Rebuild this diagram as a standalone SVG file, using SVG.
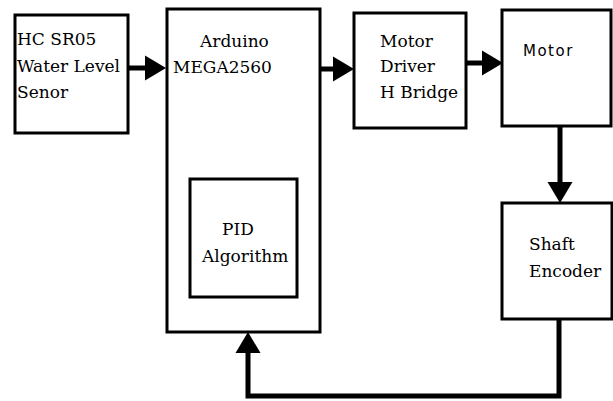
<svg xmlns="http://www.w3.org/2000/svg" width="613" height="401" viewBox="0 0 613 401">
<style>
.box{fill:#fff;stroke:#000;stroke-width:3}
.t{font-family:"DejaVu Serif","Liberation Serif",serif;font-size:17px;fill:#000}
.s{font-family:"DejaVu Sans","Liberation Sans",sans-serif;font-size:15px;fill:#000;letter-spacing:1.5px}
.c{fill:none;stroke:#000;stroke-width:5}
</style>
<defs>
<marker id="ah" markerUnits="userSpaceOnUse" markerWidth="22" markerHeight="26" refX="0" refY="12.5" orient="auto" overflow="visible">
<path d="M0,0 L21,12.5 L0,25 Z" fill="#000"/>
</marker>
</defs>
<rect width="613" height="401" fill="#fff"/>
<g id="sensor">
<rect class="box" x="15" y="15" width="113" height="118"/>
<text class="t" x="17" y="45">HC SR05</text>
<text class="t" x="17" y="72">Water Level</text>
<text class="t" x="17" y="98">Senor</text>
</g>
<g id="arduino">
<rect class="box" x="167" y="9" width="153" height="323"/>
<text class="t" x="200" y="47">Arduino</text>
<text class="t" x="173" y="73">MEGA2560</text>
</g>
<g id="pid">
<rect class="box" x="190" y="179" width="107" height="118"/>
<text class="t" x="222" y="235">PID</text>
<text class="t" x="202" y="262">Algorithm</text>
</g>
<g id="driver">
<rect class="box" x="354" y="13" width="112" height="115"/>
<text class="t" x="380" y="47">Motor</text>
<text class="t" x="380" y="72">Driver</text>
<text class="t" x="380" y="98">H Bridge</text>
</g>
<g id="motor">
<rect class="box" x="502" y="10" width="109" height="116"/>
<text class="s" x="523" y="56">Motor</text>
</g>
<g id="encoder">
<rect class="box" x="502" y="203" width="110" height="116"/>
<text class="t" x="529" y="250">Shaft</text>
<text class="t" x="529" y="277">Encoder</text>
</g>
<g id="connectors">
<path class="c" d="M128,68 H145" marker-end="url(#ah)"/>
<path class="c" d="M320,69 H333" marker-end="url(#ah)"/>
<path class="c" d="M466,63 H482" marker-end="url(#ah)"/>
<path class="c" d="M560,126 V182" marker-end="url(#ah)"/>
<path class="c" d="M559,319 V396 H248 V353" marker-end="url(#ah)"/>
</g>
</svg>
